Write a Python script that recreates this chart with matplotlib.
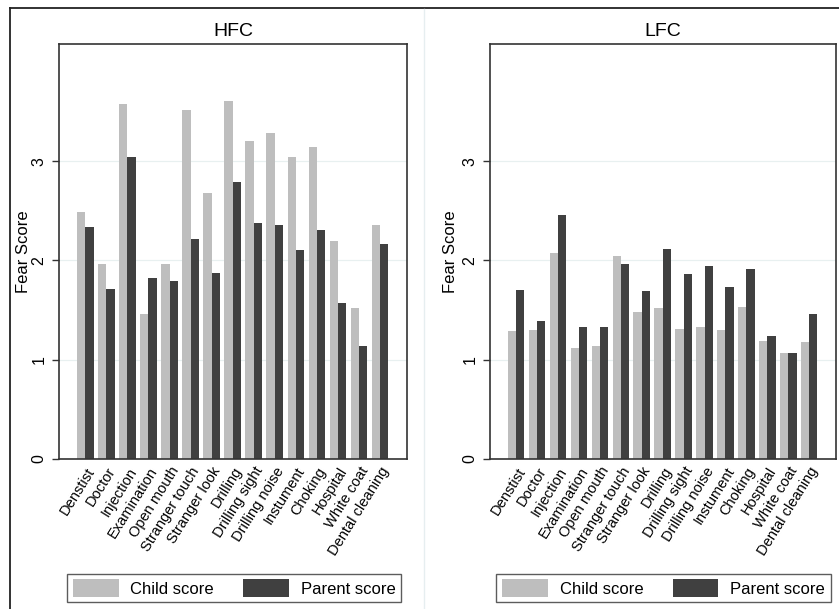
import matplotlib
matplotlib.use("Agg")
import matplotlib.pyplot as plt
from matplotlib.patches import Patch
from matplotlib.lines import Line2D
import numpy as np

plt.rcParams['font.family'] = ['Liberation Sans', 'DejaVu Sans']

categories = ["Denstist", "Doctor", "Injection", "Examination", "Open mouth",
              "Stranger touch", "Stranger look", "Drilling", "Drilling sight",
              "Drilling noise", "Instument", "Choking", "Hospital", "White coat",
              "Dental cleaning"]

hfc_child = [2.49, 1.96, 3.58, 1.46, 1.96, 3.52, 2.68, 3.61, 3.20, 3.28, 3.04, 3.14, 2.20, 1.52, 2.36]
hfc_parent = [2.34, 1.71, 3.04, 1.82, 1.79, 2.22, 1.87, 2.79, 2.38, 2.36, 2.11, 2.31, 1.57, 1.14, 2.17]

lfc_child = [1.29, 1.30, 2.07, 1.12, 1.14, 2.04, 1.48, 1.52, 1.31, 1.33, 1.30, 1.53, 1.19, 1.07, 1.18]
lfc_parent = [1.70, 1.39, 2.46, 1.33, 1.33, 1.96, 1.69, 2.12, 1.86, 1.94, 1.73, 1.91, 1.24, 1.07, 1.46]

panels = ["HFC", "LFC"]
series_labels = ["Child score", "Parent score"]
yticks = [0, 1, 2, 3]

child_color = "#bebebe"
parent_color = "#404040"
grid_color = "#e8f0f0"
spine_color = "#333333"

W, H = 839, 609
fig = plt.figure(figsize=(W / 100, H / 100), dpi=100)

def px_rect(x0, y0, x1, y1):
    return [x0 / W, 1 - y1 / H, (x1 - x0) / W, (y1 - y0) / H]

# outer frame lines
fig.add_artist(Line2D([10 / W, 1.0], [1 - 8 / H, 1 - 8 / H], transform=fig.transFigure,
                      color="#222222", lw=1.3))
fig.add_artist(Line2D([10 / W, 10 / W], [1 - 8 / H, 0], transform=fig.transFigure,
                      color="#222222", lw=1.3))
fig.add_artist(Line2D([424 / W, 424 / W], [1 - 9 / H, 0], transform=fig.transFigure,
                      color="#e6eef0", lw=1.0))

axes_px = [(59, 44, 407, 459), (490, 44, 836, 459)]
ylabel_px = [31, 458]
legend_px = [(65, 572, 403, 604), (496, 572, 831, 604)]
data = [(hfc_child, hfc_parent), (lfc_child, lfc_parent)]

x = np.arange(len(categories))
bw = 0.395

for i, (title, (child, parent)) in enumerate(zip(panels, data)):
    x0, y0, x1, y1 = axes_px[i]
    ax = fig.add_axes(px_rect(x0, y0, x1, y1))
    ax.bar(x - bw / 2, child, width=bw, color=child_color, edgecolor="none",
           label=series_labels[0], zorder=2)
    ax.bar(x + bw / 2, parent, width=bw, color=parent_color, edgecolor="none",
           label=series_labels[1], zorder=2)
    ax.set_xlim(-1.25, len(categories) - 1 + 1.28)
    ax.set_ylim(0, 4.18)
    ax.set_yticks(yticks)
    ax.set_yticklabels([str(t) for t in yticks], rotation=90, va="center", fontsize=11.5)
    ax.yaxis.grid(True, color=grid_color, lw=0.9, zorder=0)
    ax.set_axisbelow(True)
    ax.set_xticks(x)
    ax.set_xticklabels(categories, rotation=58, ha="right", rotation_mode="anchor",
                       fontsize=10.5)
    ax.tick_params(axis="x", length=0, pad=4)
    ax.tick_params(axis="y", length=5, width=1, color=spine_color, pad=4)
    for s in ax.spines.values():
        s.set_color(spine_color)
        s.set_linewidth(1.2)
    ax.set_ylabel("Fear Score", fontsize=12)
    ax.yaxis.set_label_coords((ylabel_px[i] - x0) / (x1 - x0), 0.5)
    ax.set_title(title, fontsize=14, pad=6)

    lx0, ly0, lx1, ly1 = legend_px[i]
    handles = [Patch(facecolor=child_color, edgecolor="none"),
               Patch(facecolor=parent_color, edgecolor="none")]
    leg = fig.legend(handles, series_labels, loc="center",
                     bbox_to_anchor=((lx0 + lx1) / 2 / W, 1 - (ly0 + ly1) / 2 / H),
                     ncol=2, fontsize=12, frameon=True, fancybox=False,
                     handlelength=2.75, handleheight=1.2, handletextpad=0.7,
                     columnspacing=1.75, borderpad=0.35, borderaxespad=0)
    leg.get_frame().set_edgecolor(spine_color)
    leg.get_frame().set_linewidth(1.0)

fig.savefig("out.png", dpi=100)
